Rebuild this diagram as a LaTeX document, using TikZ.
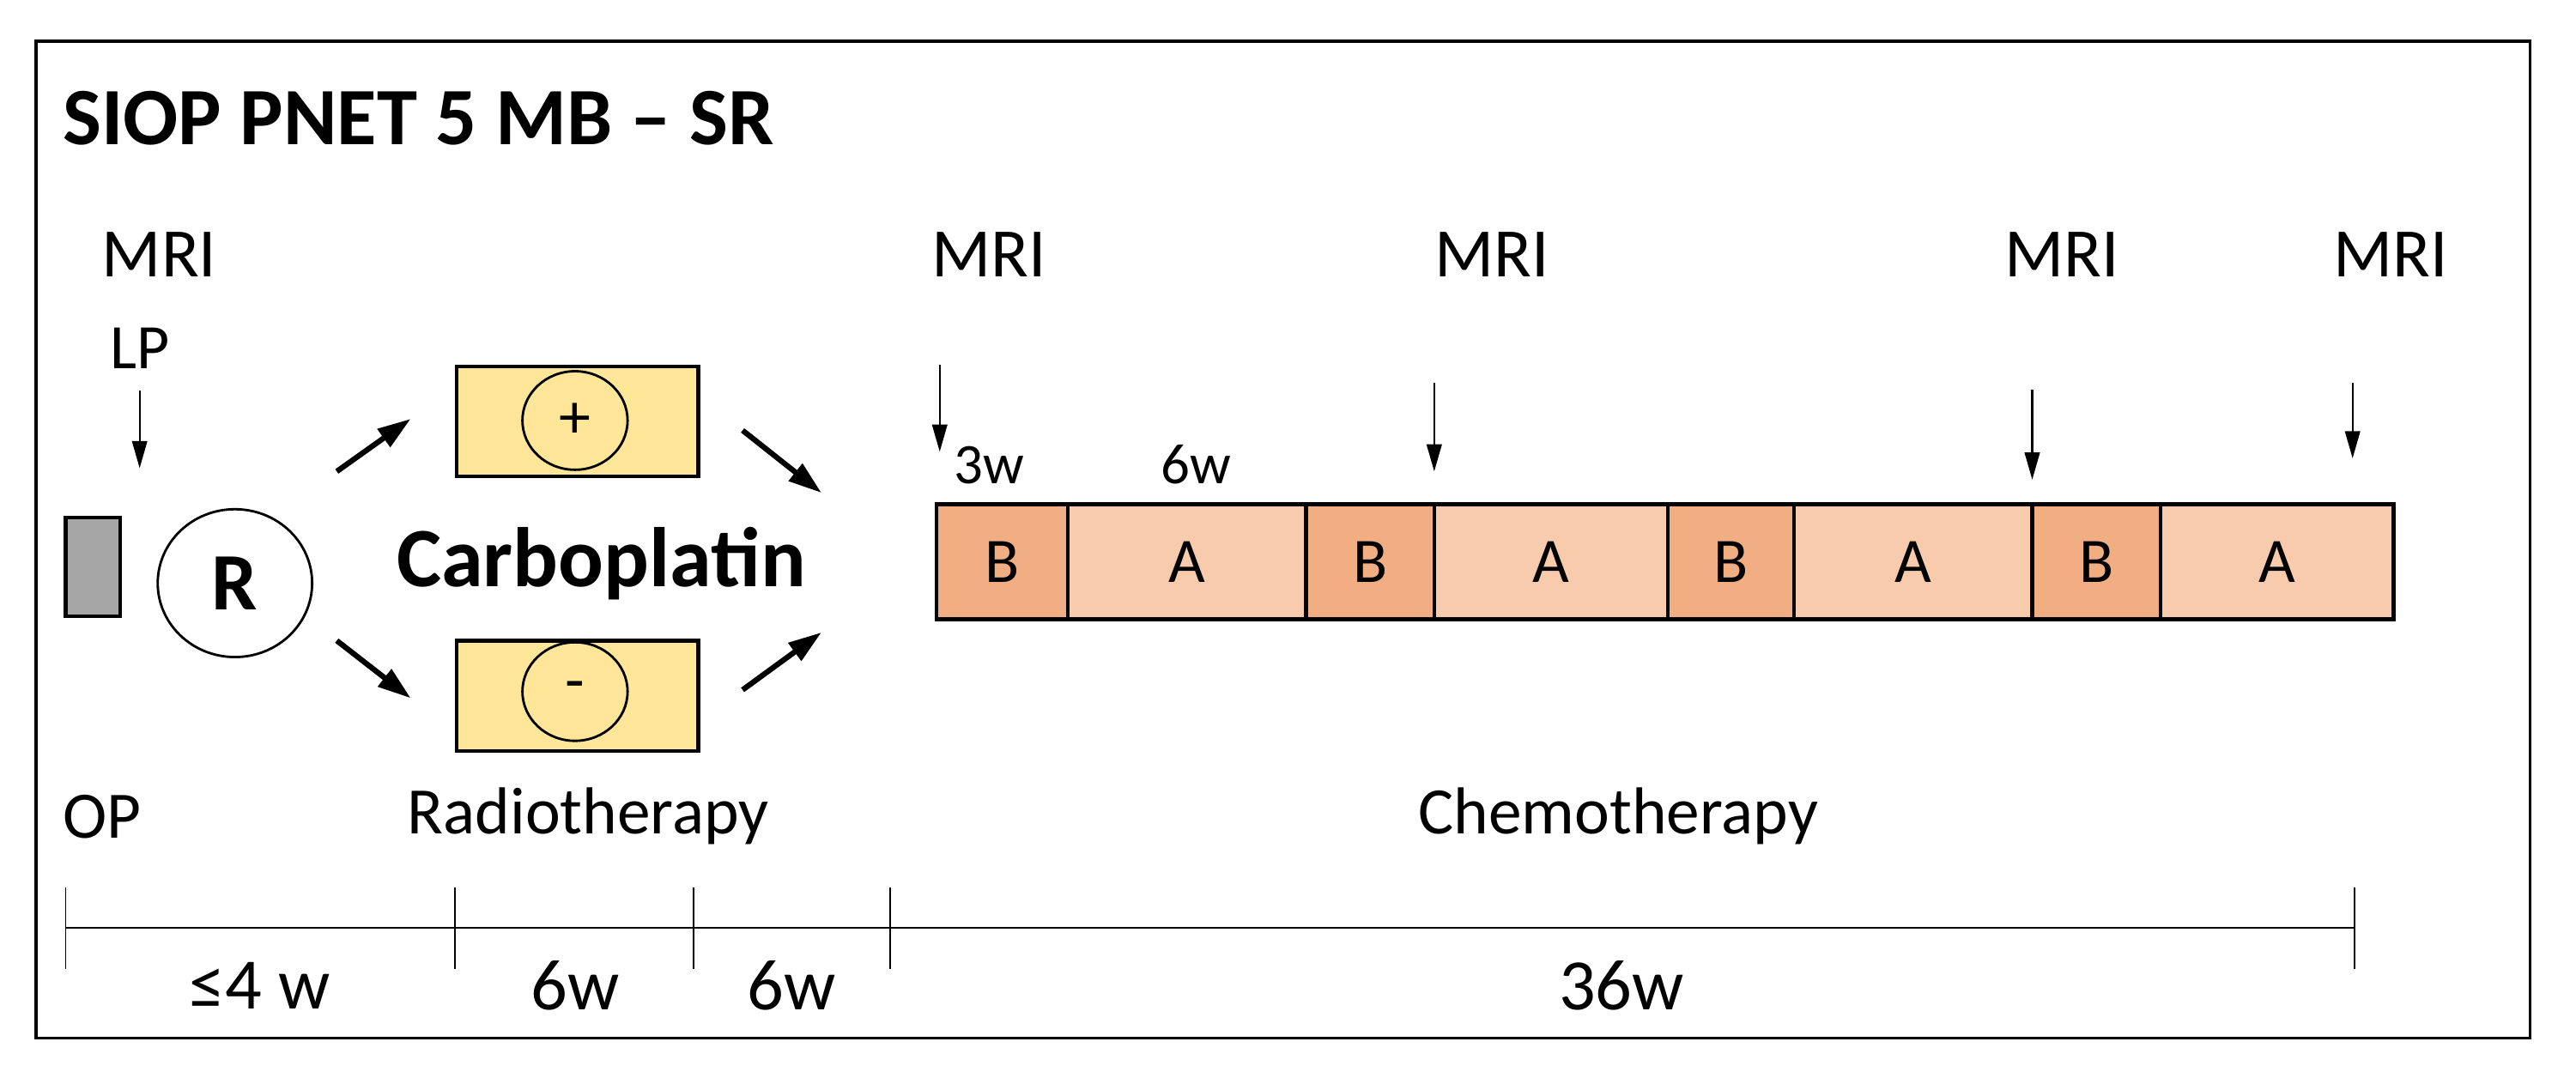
\documentclass[tikz,border=0pt]{standalone}
\usepackage{fontspec}
\setmainfont{Carlito}
\usetikzlibrary{arrows.meta,shapes.geometric}
\definecolor{cB}{HTML}{F0AE82}
\definecolor{cA}{HTML}{F8CBAD}
\definecolor{cY}{HTML}{FFE699}
\definecolor{cG}{HTML}{A6A6A6}
\begin{document}
\begin{tikzpicture}[x=0.01914cm,y=-0.01914cm,
 lbl/.style={inner sep=0pt,font=\fontsize{23}{26}\selectfont},
 sm/.style={inner sep=0pt,font=\fontsize{19}{22}\selectfont},
 seg/.style={draw,line width=1.2pt,minimum height=70*0.01914cm,inner sep=0pt,font=\fontsize{21}{24}\selectfont},
 ybox/.style={draw,line width=1.2pt,fill=cY,minimum width=147*0.01914cm,minimum height=67*0.01914cm},
 oval/.style={draw,ellipse,line width=0.8pt,minimum width=64*0.01914cm,minimum height=60*0.01914cm,inner sep=0pt,font=\fontsize{21}{24}\selectfont},
 thin/.style={-{Triangle[length=9pt,width=5pt]},line width=0.6pt},
 thick/.style={-{Triangle[length=11pt,width=7pt]},line width=1.8pt},
 tl/.style={line width=0.5pt}]
\useasboundingbox (0,0) rectangle (1568,656);
\draw[line width=1pt] (22,25) rectangle (1540,632);
\node[anchor=base west,inner sep=0pt,font=\bfseries\fontsize{27}{30}\selectfont] (title) at (38,88) {SIOP PNET 5 MB – SR};
% MRI labels
\node[lbl] (m1) at (97,155) {MRI};
\node[lbl] (m2) at (602,155) {MRI};
\node[lbl] (m3) at (908,155) {MRI};
\node[lbl] (m4) at (1255,155) {MRI};
\node[lbl] (m5) at (1455,155) {MRI};
\node[sm,font=\fontsize{21}{24}\selectfont] (lp) at (85,212) {LP};
\coordinate (lpa) at (85,238); \coordinate (lpb) at (85,285);
\draw[thin] (lpa) -- (lpb);
% left part
\node[draw,line width=1.2pt,fill=cG,minimum width=33*0.01914cm,minimum height=60*0.01914cm,inner sep=0pt] (op) at (56.5,345) {};
\node[draw,ellipse,line width=0.8pt,minimum width=94*0.01914cm,minimum height=90*0.01914cm,inner sep=0pt,font=\bfseries\fontsize{27}{30}\selectfont] (R) at (143,355) {R};
\node[ybox] (top) at (351.5,256.5) {};
\node[oval] (plus) at (350,256) {+};
\node[ybox] (bot) at (351.5,423.5) {};
\node[oval] (minus) at (350,421) {-};
\node[inner sep=0pt,font=\bfseries\fontsize{28}{30}\selectfont] (carbo) at (366,343) {Carboplatin};
\coordinate (a1s) at (205,287); \coordinate (a1e) at (250,255);
\coordinate (a2s) at (452,262); \coordinate (a2e) at (500,300);
\coordinate (a3s) at (205,390); \coordinate (a3e) at (250,425);
\coordinate (a4s) at (452,420); \coordinate (a4e) at (500,385);
\draw[thick] (a1s) -- (a1e);
\draw[thick] (a2s) -- (a2e);
\draw[thick] (a3s) -- (a3e);
\draw[thick] (a4s) -- (a4e);
% chemo bar
\foreach \n/\a/\b/\t/\c in {s1/570/650/B/cB, s2/650/795/A/cA, s3/795/873/B/cB, s4/873/1015/A/cA, s5/1015/1092/B/cB, s6/1092/1237/A/cA, s7/1237/1315/B/cB, s8/1315/1457/A/cA}{
 \node[seg,fill=\c,minimum width={(\b-\a)*0.01914cm}] (\n) at ({(\a+\b)/2},342) {\t};
}
\node[sm] (w3) at (602,283) {3w};
\node[sm] (w6) at (728,283) {6w};
\coordinate (c1a) at (572,222); \coordinate (c1b) at (572,275);
\coordinate (c2a) at (873,233); \coordinate (c2b) at (873,287);
\coordinate (c3a) at (1237,237); \coordinate (c3b) at (1237,292);
\coordinate (c4a) at (1432,233); \coordinate (c4b) at (1432,279);
\draw[thin] (c1a) -- (c1b);
\draw[thin] (c2a) -- (c2b);
\draw[thin] (c3a) -- (c3b);
\draw[thin] (c4a) -- (c4b);
% phase labels
\node[lbl,font=\fontsize{22}{25}\selectfont] (lop) at (62,497) {OP};
\node[lbl,font=\fontsize{22}{25}\selectfont] (lrt) at (358,497) {Radiotherapy};
\node[lbl,font=\fontsize{22}{25}\selectfont] (lch) at (985,497) {Chemotherapy};
% timeline
\coordinate (t0) at (40,565); \coordinate (t5) at (1433,565);
\draw[tl] (t0) -- (t5);
\foreach \x in {40,277,422,542,1433}{\draw[tl] (\x,540) -- (\x,590);}
\node[lbl,font=\fontsize{24}{27}\selectfont] (d1) at (158,600) {≤4 w};
\node[lbl,font=\fontsize{24}{27}\selectfont] (d2) at (350,600) {6w};
\node[lbl,font=\fontsize{24}{27}\selectfont] (d3) at (482,600) {6w};
\node[lbl,font=\fontsize{24}{27}\selectfont] (d4) at (987,600) {36w};
\end{tikzpicture}
\end{document}
